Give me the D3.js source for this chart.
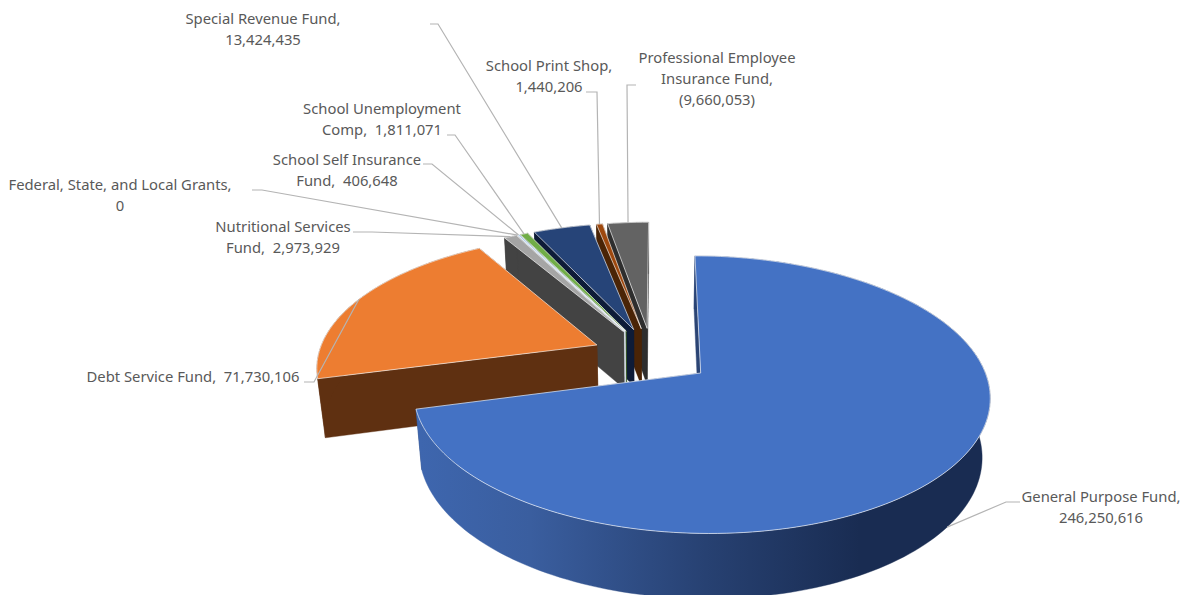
<!DOCTYPE html>
<html>
<head>
<meta charset="utf-8">
<script src="https://cdn.jsdelivr.net/npm/d3@7"></script>
<style>
  html, body { margin: 0; padding: 0; background: #fff; }
  svg { display: block; }
  text { font-family: "Noto Sans", sans-serif; font-size: 14.8px; fill: #595959; text-anchor: middle; white-space: pre; }
</style>
</head>
<body>
<svg id="chart" width="1185" height="595"></svg>
<script>
// Fund balances, in slice order (clockwise from twelve o'clock).
const funds = ["General Purpose Fund", "Debt Service Fund", "Nutritional Services Fund",
  "Federal, State, and Local Grants", "School Self Insurance Fund", "School Unemployment Comp",
  "Special Revenue Fund", "School Print Shop", "Professional Employee Insurance Fund"];
const amounts = [246250616, 71730106, 2973929, 0, 406648, 1811071, 13424435, 1440206, -9660053];

// Slice colours: top face and side walls.
const topColors = ["#4472C4", "#ED7D31", "#A5A5A5", "#FFC000", "#9DC3E6", "#70AD47", "#264478", "#9E480E", "#636363"];
const wallColors = ["#2b4474", "#5F3011", "#434343", "#7f6000", "#d9e2ec", "#3b5c26", "#0E1C38", "#4A2406", "#2E2E2E"];

// How each label wraps: name lines, and whether the value sits on its own line.
const nameLines = [["General Purpose Fund"], ["Debt Service Fund"], ["Nutritional Services", "Fund"],
  ["Federal, State, and Local Grants"], ["School Self Insurance", "Fund"], ["School Unemployment", "Comp"],
  ["Special Revenue Fund"], ["School Print Shop"], ["Professional Employee", "Insurance Fund"]];
const valueOnOwnLine = [true, false, false, true, false, false, true, true, true];

// Label placement: centre x, first baseline, and the leader's start and elbow.
const labelCx = [1101, 193, 283, 120, 347, 382, 263, 549, 717];
const labelY = [502, 382, 232, 190, 165, 114, 24, 71, 63];
const leaderFrom = [[1020, 502], [304, 382], [353, 232], [252, 190], [423, 164], [447, 135], [430, 24], [586, 92], [636, 85]];
const leaderElbow = [[1006, 502], [314, 382], [372, 232], [262, 190], [432, 164], [455, 135], [438, 24], [597, 92], [627, 85]];
const lineGap = 21;

// Scene settings for the tilted, exploded pie.
const startDeg = 0.2;
const explode = 0.216;
const viewDist = 6.54;
const depthT = 0.0228;
const vanish = { x: 650, y: 2900 };

const rad = d => d * Math.PI / 180;
const scaleX = d3.scaleLinear().domain([-1, 1]).range([652 - 279, 652 + 279]);
const scaleZ = d3.scaleLinear().domain([-1, 1]).range([355.5 - 130, 355.5 + 130]);

// Ground-plane point (x, z) at height level h (0 top face, 1 base) to screen space.
function project(x, z, h) {
  const s = viewDist / (viewDist - z);
  const px = scaleX(0) + (scaleX(x) - scaleX(0)) * s;
  const py = scaleZ(0) + (scaleZ(z) - scaleZ(0)) * s;
  const t = h * depthT * s;
  return [px + (vanish.x - px) * t, py + (vanish.y - py) * t];
}

const pie = d3.pie().sort(null).value(v => Math.abs(v))
  .startAngle(rad(startDeg)).endAngle(rad(startDeg + 360));
const arcs = pie(amounts).map((a, i) => {
  const mid = (a.startAngle + a.endAngle) / 2;
  return { i, a0: a.startAngle, a1: a.endAngle, mid,
    ox: explode * Math.sin(mid), oz: -explode * Math.cos(mid) };
});

const rimPoint = (s, angle, h) =>
  project(s.ox + Math.sin(angle), s.oz - Math.cos(angle), h);
const apexPoint = (s, h) => project(s.ox, s.oz, h);
const rimAngles = s => {
  const n = Math.max(2, Math.ceil((s.a1 - s.a0) / rad(1.5)));
  return d3.range(n + 1).map(k => s.a0 + (s.a1 - s.a0) * k / n);
};

const svg = d3.select("#chart");
const line = d3.line();
const closed = pts => line(pts) + "Z";

// Darkening sweep along the outer wall of the largest slice.
const grad = svg.append("defs").append("linearGradient")
  .attr("id", "wallSweep").attr("gradientUnits", "userSpaceOnUse")
  .attr("x1", 420).attr("x2", 860).attr("y1", 0).attr("y2", 0);
grad.append("stop").attr("offset", 0).attr("stop-color", "#3E66AE");
grad.append("stop").attr("offset", 0.25).attr("stop-color", "#3A5E9F");
grad.append("stop").attr("offset", 0.65).attr("stop-color", "#274172");
grad.append("stop").attr("offset", 1).attr("stop-color", "#192C52");

// Back-to-front painting: slices further from the viewer go first.
const order = arcs.filter(s => s.a1 > s.a0).sort((p, q) => p.oz - q.oz);
const slices = svg.append("g").selectAll("g").data(order).join("g");

slices.each(function (s) {
  const g = d3.select(this);
  const wall = wallColors[s.i];
  const angles = rimAngles(s);
  const endWall = [apexPoint(s, 0), rimPoint(s, s.a1, 0), rimPoint(s, s.a1, 1), apexPoint(s, 1)];
  const startWall = [apexPoint(s, 0), rimPoint(s, s.a0, 0), rimPoint(s, s.a0, 1), apexPoint(s, 1)];
  const outer = angles.map(a => rimPoint(s, a, 0)).concat(angles.slice().reverse().map(a => rimPoint(s, a, 1)));
  const face = [apexPoint(s, 0)].concat(angles.map(a => rimPoint(s, a, 0)));
  const outerFill = s.i === 0 ? "url(#wallSweep)" : wall;
  [[endWall, wall], [startWall, wall], [outer, outerFill]].forEach(([pts, fill]) => {
    g.append("path").attr("d", closed(pts)).attr("fill", fill)
      .attr("stroke", fill).attr("stroke-width", 0.4);
  });
  g.append("path").attr("d", closed(face)).attr("fill", topColors[s.i])
    .attr("stroke", "#fff").attr("stroke-opacity", 0.8).attr("stroke-width", 0.8)
    .attr("stroke-linejoin", "round");
});

// Leader lines run to the rim at each slice's middle angle.
const leaders = svg.append("g").attr("fill", "none").attr("stroke", "#B4B4B4").attr("stroke-width", 1.2);
arcs.forEach(s => {
  const level = s.i === 0 ? 1 : 0;
  leaders.append("path").attr("d", line([leaderFrom[s.i], leaderElbow[s.i], rimPoint(s, s.mid, level)]));
});

// Data labels.
const fmtValue = v => v < 0 ? `(${d3.format(",")(-v)})` : d3.format(",")(v);
const labels = svg.append("g");
arcs.forEach(s => {
  const names = nameLines[s.i];
  const value = fmtValue(amounts[s.i]);
  const rows = valueOnOwnLine[s.i]
    ? names.map((n, k) => k === names.length - 1 ? n + "," : n).concat([value])
    : names.map((n, k) => k === names.length - 1 ? `${n},  ${value}` : n);
  const text = labels.append("text").attr("x", labelCx[s.i]).attr("y", labelY[s.i]);
  rows.forEach((r, k) => {
    text.append("tspan").attr("x", labelCx[s.i]).attr("y", labelY[s.i] + k * lineGap).text(r);
  });
});
</script>
</body>
</html>
